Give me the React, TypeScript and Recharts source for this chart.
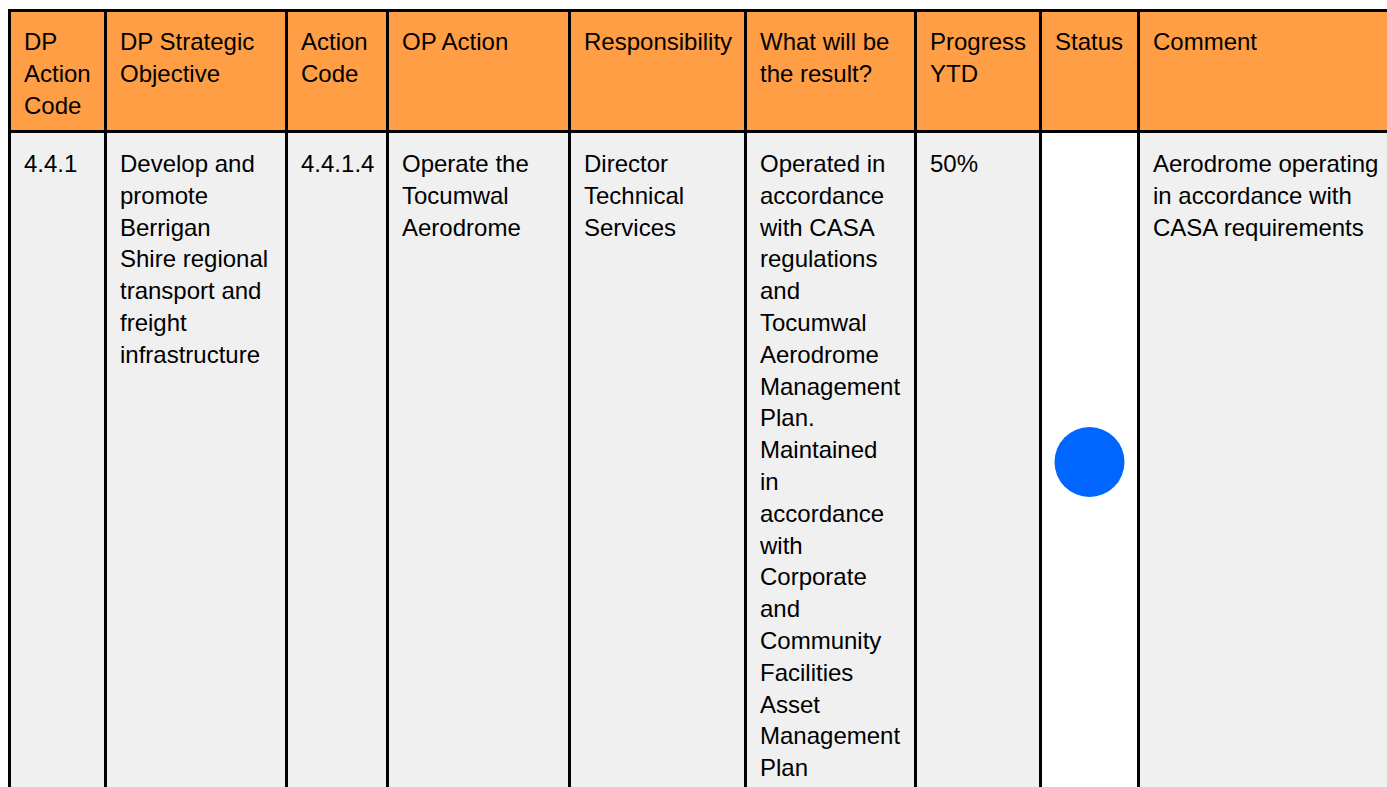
import { ScatterChart, Scatter, XAxis, YAxis, Customized } from 'recharts';

// table content
const headers = [
  'DP\nAction\nCode',
  'DP Strategic\nObjective',
  'Action\nCode',
  'OP Action',
  'Responsibility',
  'What will be\nthe result?',
  'Progress\nYTD',
  'Status',
  'Comment',
];

const rowCells = [
  '4.4.1',
  'Develop and\npromote\nBerrigan\nShire regional\ntransport and\nfreight\ninfrastructure',
  '4.4.1.4',
  'Operate the\nTocumwal\nAerodrome',
  'Director\nTechnical\nServices',
  'Operated in\naccordance\nwith CASA\nregulations\nand\nTocumwal\nAerodrome\nManagement\nPlan.\nMaintained\nin\naccordance\nwith\nCorporate\nand\nCommunity\nFacilities\nAsset\nManagement\nPlan',
  '50%',
  '',
  'Aerodrome operating\nin accordance with\nCASA requirements',
];

const statusColumn = 'Status';
const statusValues = ['On track'];

// layout
const W = 1387;
const H = 787;
const colLines = [9.5, 105.5, 286.5, 387.5, 569.5, 745.5, 915.5, 1040.5, 1138.5, 1400];
const topLine = 10.5;
const headerLine = 131.5;
const rowBottom = 792.5;
const lineH = 31.8;
const FONT = '"Liberation Sans", Arial, sans-serif';
const ORANGE = '#FF9E45';
const GREY = '#F0F0F0';
const BLUE = '#0066FF';

const statusIdx = headers.indexOf(statusColumn);
const dotData = statusValues.map((s, i) => ({
  status: s,
  x: (colLines[statusIdx] + colLines[statusIdx + 1]) / 2,
  y: (headerLine + rowBottom) / 2 + i * 0,
}));

function Cell({ text, col, baseY }: { text: string; col: number; baseY: number }) {
  const x = colLines[col] + 14.5;
  return (
    <text x={x} fontFamily={FONT} fontSize={24} fill="#000">
      {text.split('\n').map((l, i) => (
        <tspan key={i} x={x} y={baseY + i * lineH}>{l}</tspan>
      ))}
    </text>
  );
}

function Table() {
  return (
    <g>
      <rect x={colLines[0]} y={topLine} width={W} height={headerLine - topLine} fill={ORANGE} />
      <rect x={colLines[0]} y={headerLine} width={W} height={rowBottom - headerLine} fill={GREY} />
      <rect
        x={colLines[statusIdx]}
        y={headerLine}
        width={colLines[statusIdx + 1] - colLines[statusIdx]}
        height={rowBottom - headerLine}
        fill="#FFFFFF"
      />
      {headers.map((h, i) => <Cell key={'h' + i} text={h} col={i} baseY={50} />)}
      {rowCells.map((c, i) => <Cell key={'c' + i} text={c} col={i} baseY={172} />)}
      <line x1={colLines[0] - 1.5} x2={W + 10} y1={topLine} y2={topLine} stroke="#000" strokeWidth={3} />
      <line x1={colLines[0] - 1.5} x2={W + 10} y1={headerLine} y2={headerLine} stroke="#000" strokeWidth={3} />
      {colLines.slice(0, -1).map((x, i) => (
        <line key={i} x1={x} x2={x} y1={topLine - 1.5} y2={H + 10} stroke="#000" strokeWidth={3} />
      ))}
    </g>
  );
}

export default function App() {
  return (
    <div style={{ position: 'absolute', left: 0, top: 0, width: W, height: H, background: '#fff' }}>
      <style>{'body{margin:0;overflow:hidden}'}</style>
      <ScatterChart width={W} height={H} margin={{ top: 0, right: 0, bottom: 0, left: 0 }}>
        <XAxis type="number" dataKey="x" domain={[0, W]} hide />
        <YAxis type="number" dataKey="y" domain={[0, H]} reversed hide />
        <Customized component={<Table />} />
        <Scatter
          data={dotData}
          isAnimationActive={false}
          shape={(p: any) => <circle cx={p.cx} cy={p.cy} r={35} fill={BLUE} />}
        />
      </ScatterChart>
    </div>
  );
}
